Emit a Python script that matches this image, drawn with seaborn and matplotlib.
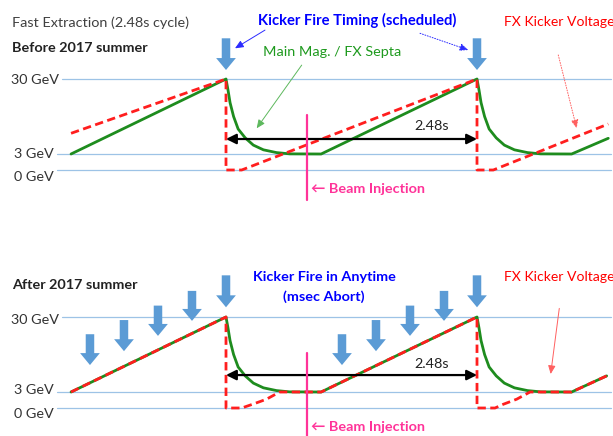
import numpy as np
import matplotlib
matplotlib.use("Agg")
import matplotlib.pyplot as plt
import seaborn as sns

# ---------------- data (time in s, energy in GeV) ----------------
CYCLE = 2.48
INJECTION_T = 0.80

top_green_t = [-1.531, 0.0, 0.02, 0.04, 0.075, 0.12, 0.19, 0.27, 0.37, 0.50, 0.63, 0.94,
               2.48, 2.50, 2.52, 2.555, 2.60, 2.67, 2.75, 2.85, 2.98, 3.11, 3.415, 3.777]
top_green_e = [3.0, 30.0, 26.0, 21.5, 16.5, 12.0, 8.8, 6.2, 4.5, 3.5, 3.05, 3.0,
               30.0, 26.0, 21.5, 16.5, 12.0, 8.8, 6.2, 4.5, 3.5, 3.05, 3.0, 8.65]

top_red_t = [-1.531, 0.0, 0.0, 0.155, 2.48, 2.48, 2.641, 3.777]
top_red_e = [10.45, 30.0, 0.0, 0.0, 30.0, 0.0, 0.0, 13.8]

bot_green_t = [-1.531, 0.0, 0.02, 0.04, 0.075, 0.12, 0.19, 0.27, 0.37, 0.50, 0.63, 0.94,
               2.48, 2.50, 2.52, 2.555, 2.60, 2.67, 2.75, 2.85, 2.98, 3.11, 3.415, 3.761]
bot_green_e = [3.0, 30.0, 26.0, 21.5, 16.5, 12.0, 8.8, 6.2, 4.5, 3.5, 3.05, 3.0,
               30.0, 26.0, 21.5, 16.5, 12.0, 8.8, 6.2, 4.5, 3.5, 3.05, 3.0, 8.8]

bot_red_t = [-1.531, 0.0, 0.0, 0.155, 0.27, 0.40, 0.53, 0.94,
             2.48, 2.48, 2.658, 2.74, 2.872, 3.004, 3.415, 3.761]
bot_red_e = [3.0, 30.0, 0.0, 0.0, 0.75, 1.65, 3.0, 3.0,
             30.0, 0.0, 0.0, 0.7, 1.65, 3.0, 3.0, 8.8]

top_kick_t = [0.0, 2.48]
top_kick_from = [44.65, 44.65]
top_kick_to = [33.24, 33.24]

bot_kick_t = [-1.344, -1.008, -0.672, -0.336, 0.0, 1.146, 1.482, 1.818, 2.154, 2.48]
bot_kick_from = [23.8, 28.9, 34.1, 39.4, 45.0, 23.8, 28.9, 34.1, 39.4, 45.0]
bot_kick_to = [12.7, 17.7, 23.2, 28.6, 33.5, 12.7, 17.7, 23.2, 28.6, 33.5]

level_ticks = [30, 3, 0]
level_labels = ["30 GeV", "3 GeV", "0 GeV"]

# ---------------- styling ----------------
W, H = 613, 436
GREEN = "#1E8C1E"
RED = "#FF1E1E"
KICK_BLUE = "#5B9BD5"
GRID = "#9DC3E6"
PINK = "#FF3399"
TXT = "#333333"

sns.set_theme(style="white")
plt.rcParams['font.family'] = ['Lato', 'DejaVu Sans']

fig = plt.figure(figsize=(W / 100, H / 100), dpi=100)

PX_PER_S = 251 / CYCLE
T_LEFT = -226 / PX_PER_S
T_RIGHT = (W - 226) / PX_PER_S


def fwd(g):
    g = np.asarray(g, float)
    return np.where(g <= 3, g * 16 / 3, 16 + (g - 3) * 75 / 27)


def inv(l):
    l = np.asarray(l, float)
    return np.where(l <= 16, l * 3 / 16, 3 + (l - 16) * 27 / 75)


def P(x, y):
    return x / W, 1 - y / H


def setup(ax, top_px, bottom_px, zero_px):
    ax.set_yscale('function', functions=(fwd, inv))
    ax.set_xlim(T_LEFT, T_RIGHT)
    ax.set_ylim(float(inv(zero_px - bottom_px)), float(inv(zero_px - top_px)))
    ax.axis('off')


def draw_panel(ax, green_t, green_e, red_t, red_e, kt, kf, kto, top_px, bottom_px, zero_px,
               arrow_e, inj_top_e, inj_bot_e):
    sns.lineplot(x=green_t, y=green_e, sort=False, estimator=None, color=GREEN,
                 linewidth=2.0, ax=ax, zorder=3)
    sns.lineplot(x=red_t, y=red_e, sort=False, estimator=None, color=RED,
                 linewidth=2.0, linestyle=(0, (3, 1.6)), ax=ax, zorder=4)
    setup(ax, top_px, bottom_px, zero_px)
    for lv in level_ticks:
        xmin = 62 / W if lv == 30 else 57 / W
        ax.axhline(lv, xmin=xmin, xmax=611 / W, color=GRID, lw=0.9, zorder=1)
    for t, a, b in zip(kt, kf, kto):
        ax.arrow(t, a, 0, b - a, width=0.084, head_width=0.195, head_length=4.3,
                 length_includes_head=True, color=KICK_BLUE, lw=0, zorder=6)
    ax.annotate("", xy=(CYCLE, arrow_e), xytext=(0, arrow_e),
                arrowprops=dict(arrowstyle="<|-|>,head_length=0.6,head_width=0.3",
                                color="black", lw=1.6, shrinkA=0, shrinkB=0,
                                mutation_scale=10), zorder=5)
    ax.plot([INJECTION_T, INJECTION_T], [inj_top_e, inj_bot_e], color=PINK, lw=1.6, zorder=7)


ax1 = fig.add_axes([0, 1 - 218 / H, 1, 218 / H])
draw_panel(ax1, top_green_t, top_green_e, top_red_t, top_red_e,
           top_kick_t, top_kick_from, top_kick_to, 0, 218, 170, 8.4, 17.0, -5.6)

ax2 = fig.add_axes([0, 0, 1, 218 / H])
draw_panel(ax2, bot_green_t, bot_green_e, bot_red_t, bot_red_e,
           bot_kick_t, bot_kick_from, bot_kick_to, 218, 436, 408, 9.1, 17.0, -5.25)

# thin pointer arrows (data coordinates)
def pointer(ax, start, end, color, ls, lw=0.7):
    ax.annotate("", xy=end, xytext=start,
                arrowprops=dict(arrowstyle="-|>,head_length=0.5,head_width=0.22",
                                color=color, lw=lw, linestyle=ls, shrinkA=0, shrinkB=0,
                                mutation_scale=10), zorder=8)

pointer(ax1, (0.385, 47.6), (0.089, 41.05), "#2B2BFF", "-")
pointer(ax1, (1.917, 46.45), (2.394, 40.44), "#2B2BFF", ":")
pointer(ax1, (0.748, 35.0), (0.303, 12.25), "#5DB85D", "-")
pointer(ax1, (3.283, 38.64), (3.465, 12.25), "#FF6060", ":")
pointer(ax2, (3.293, 33.1), (3.208, 9.48), "#FF6060", "-")

# ---------------- texts ----------------
FS = 10.4
def T(s, x, y, color=TXT, weight="normal", size=FS):
    fig.text(*P(x, y), s, color=color, fontweight=weight, fontsize=size,
             ha="left", va="center")

T("Fast Extraction (2.48s cycle)", 12, 22.5, "#404040")
T("Before 2017 summer", 12, 47.5, "#222222", "bold")
T("Kicker Fire Timing (scheduled)", 258, 20, "#0000FF", "bold", 10.6)
T("Main Mag. / FX Septa", 263, 52, "#1E9A1E")
T("FX Kicker Voltage", 504, 22, "#FF0000", size=10.1)
T("2.48s", 414, 126, "#222222")
T("\u2190 Beam Injection", 311, 189, PINK, "bold")
T(level_labels[0], 11, 80)
T(level_labels[1], 14, 154)
T(level_labels[2], 14, 177)

T("After 2017 summer", 12, 285, "#222222", "bold")
T("Kicker Fire in Anytime", 253, 277, "#0000FF", "bold")
T("(msec Abort)", 283, 297, "#0000FF", "bold")
T("FX Kicker Voltage", 504, 277, "#FF0000", size=10.1)
T("2.48s", 414, 364, "#222222")
T("\u2190 Beam Injection", 311, 427, PINK, "bold")
T(level_labels[0], 11, 319.5)
T(level_labels[1], 14, 390)
T(level_labels[2], 14, 414)

fig.savefig("out.png", dpi=100)
